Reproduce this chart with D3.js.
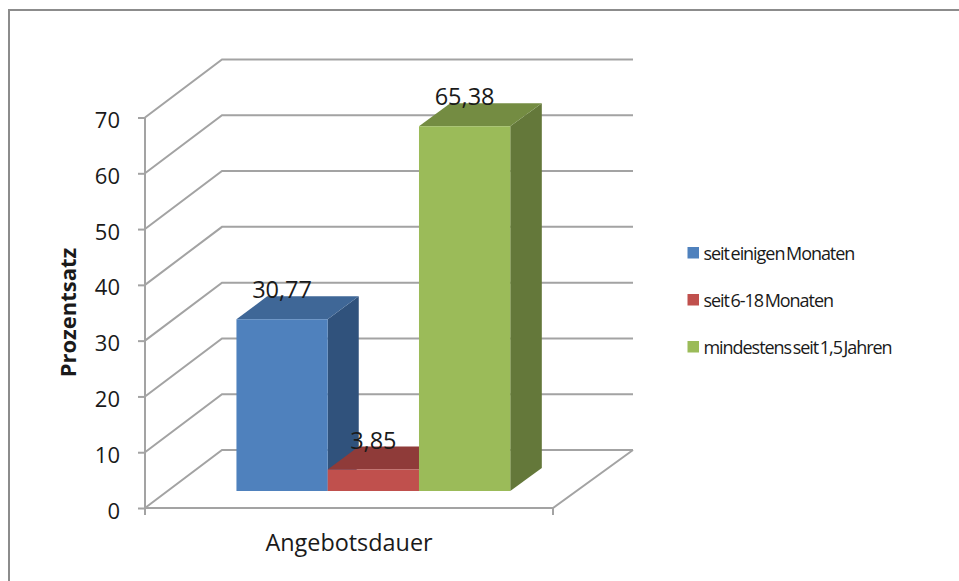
<!DOCTYPE html>
<html>
<head>
<meta charset="utf-8">
<script src="https://cdn.jsdelivr.net/npm/d3@7/dist/d3.min.js"></script>
<style>
  html, body { margin: 0; padding: 0; background: #fff; }
  svg { display: block; }
  text { font-family: "Open Sans", "Noto Sans", sans-serif; fill: #1a1a1a; }
</style>
</head>
<body>
<svg id="chart" width="959" height="581"></svg>
<script>
const seriesNames = ["seit einigen Monaten", "seit 6-18 Monaten", "mindestens seit 1,5 Jahren"];
const seriesValues = [30.77, 3.85, 65.38];
const valueLabels = ["30,77", "3,85", "65,38"];
const frontColors = ["#4f81bd", "#c0504d", "#9bbb59"];
const topColors = ["#3f6797", "#8f3b39", "#748c42"];
const sideColors = ["#30527c", "#7a3230", "#64783a"];
const yTicks = [0, 10, 20, 30, 40, 50, 60, 70];
const categoryLabel = "Angebotsdauer";
const yTitle = "Prozentsatz";

const svg = d3.select("#chart");

// Chart frame: top and left edges stay inside the page, the rest runs off it
svg.append("path")
  .attr("d", "M9,581V10H959")
  .attr("fill", "none").attr("stroke", "#8c8c8c").attr("stroke-width", 2);

// Perspective: depth 0 is the front plane, depth 1 the back wall
const frontRange = [145, 553], backRange = [222, 633];
const xFront = d3.scaleLinear().domain(frontRange).range(frontRange);
const xBack = d3.scaleLinear().domain(frontRange).range(backRange);
const x = d3.scaleBand().domain(seriesNames).range(frontRange)
  .paddingInner(0).paddingOuter(0.74).align(0.51);
const y = d3.scaleLinear().domain([0, 70]).range([508, 117.5]);
const depthRise = -58;
const project = (px, value, depth) => [
  xFront(px) + depth * (xBack(px) - xFront(px)),
  y(value) + depth * depthRise
];
const line = d3.line();

const grey = "#a3a3a3";
const walls = svg.append("g").attr("fill", "none").attr("stroke", grey).attr("stroke-width", 2);
const [left, right] = frontRange;

// Gridlines run across the back wall and down the side wall
yTicks.forEach(t => {
  walls.append("path").attr("d", line([
    project(left, t, 0),
    project(left, t, 1),
    project(right, t, 1)
  ]));
});

// Floor edges and axes
walls.append("path").attr("d", line([
  project(right, 0, 1),
  project(right, 0, 0),
  project(left, 0, 0)
]));
walls.append("path").attr("d", line([project(left, 0, 0), project(left, 70, 0)]));
frontRange.forEach(px => {
  walls.append("path").attr("d", line([[px, y(0)], [px, y(0) + 7]]));
});

// Value axis ticks and labels
const yAxis = d3.axisLeft(y).tickValues(yTicks).tickSize(7).tickPadding(18).tickFormat(d3.format("d"));
const yg = svg.append("g").attr("transform", `translate(${left},0)`).call(yAxis);
yg.select(".domain").remove();
yg.selectAll(".tick line").attr("stroke", grey).attr("stroke-width", 2);
yg.selectAll(".tick text").attr("font-size", 22).attr("y", 3)
  .attr("font-family", '"Open Sans", sans-serif').attr("fill", "#1a1a1a");

// Bars: each is a front, top and side face sitting between two depth planes
const barNear = 0.293, barFar = 0.69;
const bars = svg.append("g").selectAll("g").data(seriesNames).join("g");
const poly = pts => line(pts) + "Z";

bars.each(function(name, i) {
  const g = d3.select(this);
  const x0 = x(name), x1 = x0 + x.bandwidth(), v = seriesValues[i];
  g.append("path").attr("fill", sideColors[i]).attr("d", poly([
    project(x1, 0, barNear), project(x1, 0, barFar), project(x1, v, barFar), project(x1, v, barNear)
  ]));
  g.append("path").attr("fill", topColors[i]).attr("d", poly([
    project(x0, v, barNear), project(x1, v, barNear), project(x1, v, barFar), project(x0, v, barFar)
  ]));
  g.append("path").attr("fill", frontColors[i]).attr("d", poly([
    project(x0, 0, barNear), project(x1, 0, barNear), project(x1, v, barNear), project(x0, v, barNear)
  ]));
});

// Value labels are centred over the front face of each bar
bars.append("text")
  .attr("text-anchor", "middle").attr("font-size", 23.5)
  .attr("x", (d, i) => project(x(d) + x.bandwidth() / 2, seriesValues[i], barNear)[0])
  .attr("y", (d, i) => project(x(d), seriesValues[i], barNear)[1] - 21)
  .text((d, i) => valueLabels[i]);

// Axis titles
svg.append("text").attr("x", 349).attr("y", 551).attr("text-anchor", "middle")
  .attr("font-size", 23.4).text(categoryLabel);
svg.append("text").attr("transform", "translate(76,312.5) rotate(-90)").attr("text-anchor", "middle")
  .attr("font-size", 22).attr("font-weight", 700).text(yTitle);

// Legend
const legendY = d3.scalePoint().domain(seriesNames).range([253, 347]);
const legend = svg.append("g").selectAll("g").data(seriesNames).join("g")
  .attr("transform", d => `translate(687.5,${legendY(d)})`);
legend.append("rect").attr("y", -6).attr("width", 11.5).attr("height", 11.5)
  .attr("fill", (d, i) => frontColors[i]);
legend.append("text").attr("x", 16).attr("y", 7).attr("font-size", 18)
  .attr("letter-spacing", -1.05).attr("word-spacing", -2).text(d => d);
</script>
</body>
</html>
